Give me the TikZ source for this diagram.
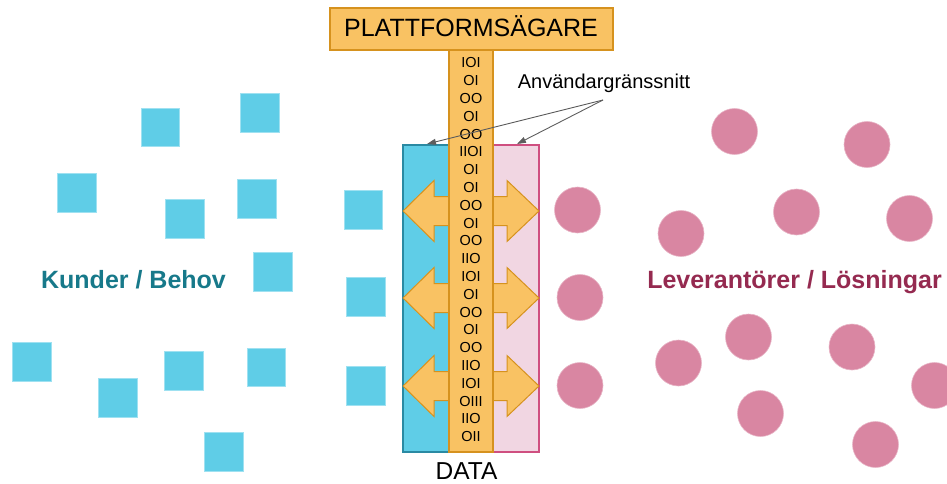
\documentclass[tikz,border=0pt]{standalone}
\usepackage{fontspec}
\setmainfont{Liberation Sans}
\usetikzlibrary{arrows.meta}
\definecolor{custblue}{HTML}{5FCDE7}
\definecolor{custedge}{HTML}{2A8AA3}
\definecolor{custtext}{HTML}{17798A}
\definecolor{suppink}{HTML}{D986A2}
\definecolor{supfill}{HTML}{F1D6E2}
\definecolor{supedge}{HTML}{CF4F80}
\definecolor{suptext}{HTML}{952A50}
\definecolor{orfill}{HTML}{F9C263}
\definecolor{oredge}{HTML}{D6921E}
\definecolor{notegray}{HTML}{5E5E5E}
\tikzset{
  custsq/.style={fill=custblue, draw=custblue!60!white, line width=0.6pt,
    minimum size=38.5pt, inner sep=0pt, outer sep=0pt},
  supdot/.style={circle, fill=suppink, draw=suppink!60!white, line width=0.6pt,
    minimum size=46pt, inner sep=0pt, outer sep=0pt},
  orbox/.style={fill=orfill, draw=oredge, line width=1.2pt},
  bits/.style={font=\fontsize{14.5}{16}\selectfont, inner sep=0pt},
  grouplabel/.style={font=\fontsize{25}{30}\selectfont\bfseries, anchor=base, inner sep=0pt},
  note/.style={draw=notegray, line width=0.9pt, -{Triangle[length=9pt,width=6pt]}}
}
\begin{document}
\begin{tikzpicture}[x=1pt,y=-1pt]
\useasboundingbox (0,0) rectangle (947,484);
\clip (0,0) rectangle (947,484);

% customers: blue squares
\node[custsq] (k1)  at (160.5,127.5) {};
\node[custsq] (k2)  at (260,113) {};
\node[custsq] (k3)  at (77,193) {};
\node[custsq] (k4)  at (185,219) {};
\node[custsq] (k5)  at (257,199) {};
\node[custsq] (k6)  at (273,272) {};
\node[custsq] (k7)  at (363.5,210) {};
\node[custsq] (k8)  at (366,297) {};
\node[custsq] (k9)  at (366,386) {};
\node[custsq] (k10) at (32,362) {};
\node[custsq] (k11) at (118,398) {};
\node[custsq] (k12) at (184,371) {};
\node[custsq] (k13) at (266.5,367.5) {};
\node[custsq] (k14) at (224,452) {};

% suppliers: pink circles
\node[supdot] (l1)  at (577.5,210) {};
\node[supdot] (l2)  at (580,297.5) {};
\node[supdot] (l3)  at (580,385.5) {};
\node[supdot] (l4)  at (734.5,131.5) {};
\node[supdot] (l5)  at (867,144.5) {};
\node[supdot] (l6)  at (796.5,212) {};
\node[supdot] (l7)  at (681,233.5) {};
\node[supdot] (l8)  at (909.5,218.5) {};
\node[supdot] (l9)  at (678.5,363) {};
\node[supdot] (l10) at (748.5,337) {};
\node[supdot] (l11) at (852,347) {};
\node[supdot] (l12) at (934.5,385.5) {};
\node[supdot] (l13) at (760.5,413.5) {};
\node[supdot] (l14) at (875.5,444.5) {};

% group labels
\node[grouplabel, text=custtext] (kunder) at (133.5,288) {Kunder / Behov};
\node[grouplabel, text=suptext] (lev) at (794.5,288) {Leverantörer / Lösningar};

% interface panels
\draw[fill=custblue, draw=custedge, line width=1.2pt] (403,145) rectangle (449,452);
\draw[fill=supfill, draw=supedge, line width=1.2pt] (493,145) rectangle (539,452);

% two-way exchange arrows
\foreach \c in {211,298,386}{
  \draw[orbox, line width=1pt, line join=miter]
    (403,\c) -- (434,\c-30.5) -- (434,\c-14.5) -- (507,\c-14.5) -- (507,\c-30.5)
    -- (539,\c) -- (507,\c+30.5) -- (507,\c+14.5) -- (434,\c+14.5) -- (434,\c+30.5) -- cycle;
}

% data column
\draw[orbox] (449,50) rectangle (493,452);
\foreach \t [count=\i from 0] in {IOI,OI,OO,OI,OO,IIOI,OI,OI,OO,OI,OO,IIO,IOI,OI,OO,OI,OO,IIO,IOI,OIII,IIO,OII}{
  \node[bits] (b\i) at (471,63+\i*17.8) {\t};
}

% platform owner
\draw[orbox] (330,8) rectangle (613,50);
\node[anchor=base, inner sep=0pt, font=\fontsize{25}{30}\selectfont] (owner) at (471,37) {PLATTFORMSÄGARE};

% data label
\node[anchor=base, inner sep=0pt, font=\fontsize{24.5}{29}\selectfont] (data) at (466.5,479) {DATA};

% user interface annotation
\node[anchor=base, inner sep=0pt, font=\fontsize{20}{24}\selectfont] (ui) at (604,88.5) {Användargränssnitt};
\coordinate (uifrom) at (603,100);
\coordinate (uileft) at (427,144);
\coordinate (uiright) at (517,144);
\draw[note] (uifrom) -- (uileft);
\draw[note] (uifrom) -- (uiright);
\end{tikzpicture}
\end{document}
